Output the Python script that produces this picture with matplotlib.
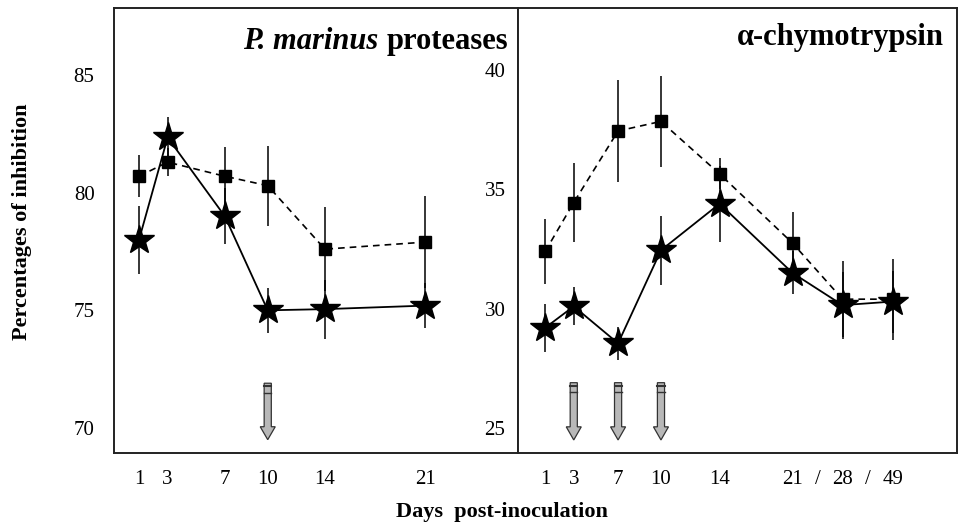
import numpy as np
import matplotlib.pyplot as plt
from matplotlib.patches import FancyArrow

plt.rcParams['font.family'] = ['Liberation Serif', 'DejaVu Serif']

# left panel: P. marinus proteases
days_left = [1, 3, 7, 10, 14, 21]
sq_left = [80.7, 81.3, 80.7, 80.3, 77.6, 77.9]
sq_left_err = [0.9, 0.6, 1.25, 1.7, 1.8, 1.95]
star_left = [78.0, 82.35, 79.0, 75.0, 75.05, 75.2]
star_left_err = [1.45, 0.85, 1.2, 0.95, 1.25, 0.95]
arrows_left = [10]

# right panel: alpha-chymotrypsin (x is categorical, compressed after day 14)
labels_right = ['1', '3', '7', '10', '14', '21', '28', '49']
pos_right = [1, 3, 6.1, 9.1, 13.2, 18.3, 21.8, 25.3]
sq_right = [32.4, 34.45, 37.45, 37.85, 35.65, 32.75, 30.4, 30.4]
sq_right_err = [1.35, 1.65, 2.15, 1.9, 0.65, 1.3, 1.6, 1.7]
star_right = [29.2, 30.1, 28.55, 32.45, 34.4, 31.5, 30.15, 30.3]
star_right_err = [1.0, 0.8, 0.7, 1.45, 1.6, 0.9, 1.4, 1.3]
arrows_right = [3, 7, 10]


def draw_series(ax, x, sq, sq_err, st, st_err):
    ax.errorbar(x, sq, yerr=sq_err, fmt='none', ecolor='black', elinewidth=1.1, zorder=2)
    ax.errorbar(x, st, yerr=st_err, fmt='none', ecolor='black', elinewidth=1.1, zorder=2)
    ax.plot(x, sq, ls=(0, (4, 3)), color='black', lw=1.2,
            marker='s', ms=9, zorder=3)
    ax.plot(x, st, ls='-', color='black', lw=1.3,
            marker='*', ms=22, zorder=4)


def draw_arrows(ax, xs, top, bottom):
    for x in xs:
        ax.add_patch(FancyArrow(x, top, 0, bottom - top, width=0.5,
                                head_width=1.05, head_length=0.55,
                                length_includes_head=True,
                                fc='#b8b8b8', ec='#333333', lw=0.9, zorder=3))
        ax.plot([x - 0.25, x + 0.25], [top - 0.12, top - 0.12], color='#333333', lw=1.5, zorder=4)
        ax.plot([x - 0.25, x + 0.25], [top - 0.4, top - 0.4], color='#333333', lw=1.0, zorder=4)


fig = plt.figure(figsize=(9.58, 5.25), dpi=100)
ax1 = fig.add_axes([0.119, 0.137, 0.4217, 0.8476])
ax2 = fig.add_axes([0.5407, 0.137, 0.4582, 0.8476])

draw_series(ax1, days_left, sq_left, sq_left_err, star_left, star_left_err)
draw_series(ax2, pos_right, sq_right, sq_right_err, star_right, star_right_err)

draw_arrows(ax1, arrows_left, 71.9, 69.5)
draw_arrows(ax2, [pos_right[labels_right.index(str(d))] for d in arrows_right], 26.9, 24.5)

ax1.set_xlim(-0.75, 27.5)
ax1.set_ylim(68.93, 87.85)
ax2.set_xlim(-0.9, 29.8)
ax2.set_ylim(23.95, 42.6)

ax1.set_xticks(days_left)
ax1.set_xticklabels([str(d) for d in days_left])
ax1.set_yticks([70, 75, 80, 85])
ax1.tick_params(axis='y', length=0, pad=14, labelsize=15)
ax1.tick_params(axis='x', length=0, pad=12, labelsize=15)

slash_pos = [(pos_right[5] + pos_right[6]) / 2, (pos_right[6] + pos_right[7]) / 2]
ax2.set_xticks(pos_right + slash_pos)
ax2.set_xticklabels(labels_right + ['/', '/'])
ax2.set_yticks([25, 30, 35, 40])
ax2.tick_params(axis='y', length=0, pad=9, labelsize=15)
ax2.tick_params(axis='x', length=0, pad=12, labelsize=15)

for ax in (ax1, ax2):
    for s in ax.spines.values():
        s.set_linewidth(1.4)
        s.set_color('#222222')

t1 = ax1.text(0.975, 0.908, 'proteases', transform=ax1.transAxes, ha='right',
              va='baseline', fontsize=22, fontweight='bold')
ax1.annotate('P. marinus ', xy=(0, 0), xycoords=t1, ha='right', va='bottom',
             fontsize=22, fontweight='bold', fontstyle='italic')
ax2.text(0.97, 0.918, 'α-chymotrypsin', transform=ax2.transAxes, ha='right',
         va='baseline', fontsize=22, fontweight='bold')

fig.text(0.023, 0.577, 'Percentages of inhibition', rotation=90, ha='center',
         va='center', fontsize=16, fontweight='bold')
fig.text(0.524, 0.025, 'Days  post-inoculation', ha='center', va='center',
         fontsize=16, fontweight='bold')

fig.savefig('out.png', dpi=100)
